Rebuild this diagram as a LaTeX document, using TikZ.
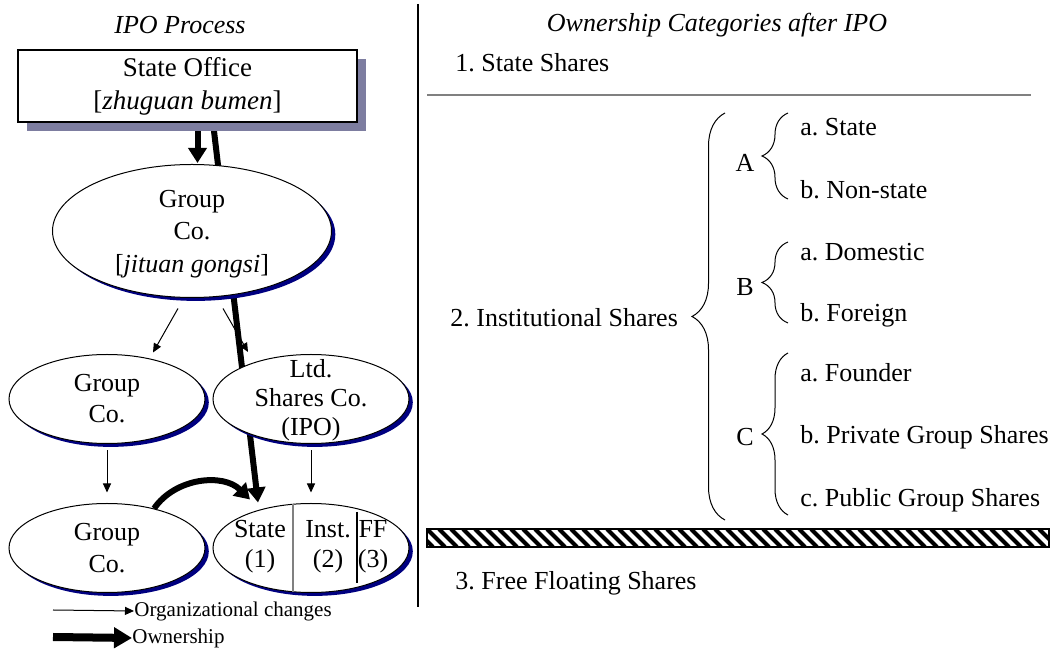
\documentclass[tikz,border=0pt]{standalone}
\usepackage{fontspec}
\setmainfont{Liberation Serif}
\frenchspacing
\usetikzlibrary{shapes.geometric,arrows.meta,shadows,decorations.pathreplacing,backgrounds,calc}
\definecolor{boxshadow}{RGB}{125,125,160}
\definecolor{navyshadow}{RGB}{0,0,128}

\begin{document}
\begin{tikzpicture}[x=0.5pt, y=-0.5pt,
        every node/.style={font=\fontsize{13}{16}\selectfont, inner sep=0pt},
        firm/.style={ellipse, draw, fill=white, line width=0.5pt, minimum width=98pt, minimum height=44.5pt,
            drop shadow={shadow xshift=1.9pt, shadow yshift=-1.7pt, fill=navyshadow, opacity=1}},
        org/.style={-{Triangle[length=4.5pt,width=4pt]}, line width=0.5pt},
        own/.style={-{Triangle[length=7.5pt,width=9pt]}, line width=3pt},
        item/.style={anchor=west},
        catbrace/.style={decorate, decoration={brace, amplitude=#1}, line width=0.5pt}]
                \useasboundingbox (0,0) rectangle (1056,651);
                % \draw[step=50, gray!30, very thin] (0,0) grid (1056,651);
                \node (lhead) at (180,25) {\itshape IPO Process};
                \node (rhead) at (717,25) {\itshape Ownership Categories after IPO};
                \draw[line width=0.6pt] (418,4) -- (418,607);

                % left: IPO process
                \node[rectangle, draw, fill=white, line width=0.6pt, minimum width=169.5pt, minimum height=36pt, align=center,
                    font=\fontsize{13.5}{16.5}\selectfont,
                    drop shadow={shadow xshift=4.5pt, shadow yshift=-4.5pt, fill=boxshadow, opacity=1}] (so) at (187.5,86)
                    {State Office\\{[}\textit{zhuguan bumen}{]}};
                \node[firm, minimum width=139.5pt, minimum height=66.5pt] (gc1) at (192,231) {};
                \node[align=center, font=\fontsize{13}{16.25}\selectfont] (gc1txt) at (192,234) {Group\\Co.\\{[}\textit{jituan gongsi}{]}};
                \node[firm] (gc2) at (107,399) {};
                \node[align=center, font=\fontsize{13}{15.5}\selectfont] (gc2txt) at (gc2) {Group\\Co.};
                \node[firm] (ltd) at (311,399) {};
                \node[align=center, font=\fontsize{13}{14.5}\selectfont] (ltdtxt) at (311,400) {Ltd.\\Shares Co.\\(IPO)};
                \node[firm] (gc3) at (107,548) {};
                \node[align=center, font=\fontsize{13}{16}\selectfont] (gc3txt) at (gc3) {Group\\Co.};
                \node[firm] (shares) at (311,548) {};
                \draw[gray, line width=0.6pt] ($(shares.center)+(-18,-43.6)$) -- ++(0,87.2);
                \draw[line width=0.6pt] ($(shares.center)+(46,-36)$) -- ++(0,71);
                \node[align=center, font=\fontsize{13}{15}\selectfont] (st) at (260,547) {State\\(1)};
                \node[align=center, font=\fontsize{13}{15}\selectfont] (inst) at (328,547) {Inst.\\(2)};
                \node[align=center, font=\fontsize{13}{15}\selectfont] (ff) at (373,547) {FF\\(3)};

                \draw[org] ([xshift=-7pt,yshift=-5.25pt]gc1.south) -- ([xshift=23pt,yshift=0.75pt]gc2.north);
                \draw[org] ([xshift=15.5pt,yshift=-5.25pt]gc1.south) -- ([xshift=-31.5pt,yshift=1pt]ltd.north);
                \draw[org, shorten <=3.25pt, shorten >=5.25pt] (gc2) -- (gc3);
                \draw[org, shorten <=3.25pt, shorten >=5.25pt] (ltd) -- (shares);

                \begin{pgfonlayer}{background}
                    \draw[own] ([xshift=5pt]so.south) -- ([xshift=2.75pt,yshift=0.5pt]gc1.north);
                    \draw[own] ([xshift=12.75pt]so.south) -- ([xshift=-26.5pt,yshift=0.25pt]shares.north);
                \end{pgfonlayer}
                \draw[own] (gc3.40) to[bend left=50] ([xshift=-30.5pt,yshift=1.75pt]shares.north);

                % legend
                \coordinate (l1) at (53,610);
                \coordinate (l2) at (53,637);
                \node[anchor=west, font=\fontsize{10.5}{12}\selectfont] (orgtxt) at (134,611) {Organizational changes};
                \node[anchor=west, font=\fontsize{10.5}{12}\selectfont] (owntxt) at (132,638) {Ownership};
                \draw[org] (l1) -- (orgtxt.west);
                \draw[-{Triangle[length=9pt,width=10pt]}, line width=4pt] (l2) -- (owntxt.west);

                % right: categories
                \node[item] (s1) at (455,63) {1. State Shares};
                \draw[gray, line width=1pt] (427,95) -- (1031,95);
                \node[item] (s2) at (450,318) {2. Institutional Shares};
                \draw[catbrace=16.5pt] (725,520) -- (725,113);

                \node (ga) at (745,163) {A};
                \draw[catbrace=13pt] (788,199) -- (788,113);
                \node[item] (ga1) at (800,127) {a. State};
                \node[item] (ga2) at (800,190) {b. Non-state};

                \node (gb) at (745,287) {B};
                \draw[catbrace=13pt] (788,323) -- (788,242);
                \node[item] (gb1) at (800,252) {a. Domestic};
                \node[item] (gb2) at (800,315) {b. Foreign};

                \node (gcc) at (745,437) {C};
                \draw[catbrace=13pt] (788,515) -- (788,353);
                \node[item] (gc1a) at (800,373) {a. Founder};
                \node[item] (gc2a) at (800,437) {b. Private Group Shares};
                \node[item] (gc3a) at (800,500) {c. Public Group Shares};

                \begin{scope}
                    \clip (427,529) rectangle (1049,547);
                    \foreach \x in {403,415,...,1050} {
                        \draw[line width=2pt] (\x,529) -- ++(18,18);
                    }
                \end{scope}
                \draw[line width=0.8pt] (427,529) rectangle (1049,547);
                \node[item] (s3) at (455,583) {3. Free Floating Shares};
\end{tikzpicture}
\end{document}
